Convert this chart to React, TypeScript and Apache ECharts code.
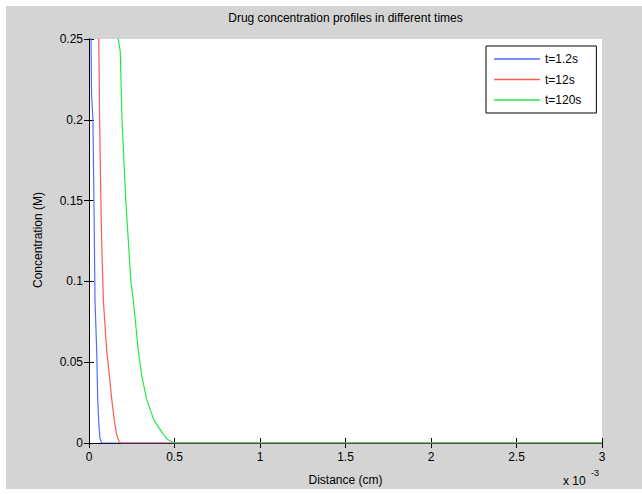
import React, { useEffect, useRef } from 'react';
import * as echarts from 'echarts';

const seriesNames = ['t=1.2s', 't=12s', 't=120s'];
const seriesColors = ['#4d6dff', '#ff5c4d', '#22e84a'];

// x in units of 1e-3 cm, y in M
const blueX = [0, 0.008, 0.012, 0.015, 0.023, 0.03, 0.035, 0.045, 0.051, 0.058, 0.064, 0.074, 3];
const blueY = [1.0, 0.4, 0.25, 0.215, 0.2, 0.14, 0.0885, 0.057, 0.027, 0.011, 0.003, 0, 0];

const redX = [0, 0.04, 0.057, 0.06, 0.062, 0.068, 0.074, 0.084, 0.103, 0.119, 0.133, 0.148, 0.162, 0.177, 0.19, 3];
const redY = [1.0, 0.5, 0.25, 0.224, 0.2, 0.16, 0.125, 0.0885, 0.0575, 0.042, 0.027, 0.014, 0.005, 0.0005, 0, 0];

const greenX = [0.12, 0.171, 0.183, 0.193, 0.215, 0.245, 0.259, 0.288, 0.308, 0.337, 0.38, 0.431, 0.462, 0.5, 3];
const greenY = [0.5, 0.25, 0.242, 0.2, 0.15, 0.1, 0.0885, 0.0575, 0.042, 0.027, 0.014, 0.006, 0.002, 0, 0];

const xTickValues = [0, 0.5, 1, 1.5, 2, 2.5, 3];
const yTickValues = [0, 0.05, 0.1, 0.15, 0.2, 0.25];

const titleText = 'Drug concentration profiles in different times';
const xLabel = 'Distance (cm)';
const yLabel = 'Concentration (M)';

const FONT = '"Liberation Sans", Arial, sans-serif';

const zip = (xs: number[], ys: number[]) => xs.map((x, i) => [x, ys[i]]);

export default function App() {
  const ref = useRef<HTMLDivElement>(null);
  useEffect(() => {
    document.body.style.margin = '0';
    const chart = echarts.init(ref.current!, null, { renderer: 'svg' });
    const axisCommon = {
      axisLine: { show: true, lineStyle: { color: '#000', width: 1 } },
      axisTick: { show: true, inside: true, length: 5, lineStyle: { color: '#000' } },
      splitLine: { show: false },
    };
    const xBase = { type: 'value', min: 0, max: 3, interval: 0.5 };
    const yBase = { type: 'value', min: 0, max: 0.25, interval: 0.05 };
    const datas = [zip(blueX, blueY), zip(redX, redY), zip(greenX, greenY)];
    chart.setOption({
      animation: false,
      backgroundColor: 'transparent',
      textStyle: { fontFamily: FONT },
      grid: {
        left: 83,
        top: 33,
        width: 513,
        height: 404,
        show: true,
        backgroundColor: '#fff',
        borderWidth: 0,
      },
      xAxis: [
        {
          ...xBase,
          ...axisCommon,
          position: 'bottom',
          axisLabel: {
            color: '#000',
            fontSize: 12,
            fontFamily: FONT,
            margin: 8,
            formatter: (v: number) => (xTickValues.includes(v) ? String(v) : ''),
          },
        },
        { ...xBase, ...axisCommon, position: 'top', axisLabel: { show: false } },
      ],
      yAxis: [
        {
          ...yBase,
          ...axisCommon,
          position: 'left',
          axisLabel: {
            color: '#000',
            fontSize: 12,
            fontFamily: FONT,
            margin: 6,
            formatter: (v: number) => {
              const r = Math.round(v * 100) / 100;
              return yTickValues.some((t) => Math.abs(t - r) < 1e-9) ? String(r) : '';
            },
          },
        },
        { ...yBase, ...axisCommon, position: 'right', axisLabel: { show: false } },
      ],
      legend: {
        orient: 'vertical',
        left: 480,
        top: 40,
        padding: [6, 15, 6, 8],
        borderColor: '#000',
        borderWidth: 1,
        backgroundColor: '#fff',
        borderRadius: 0,
        icon: 'rect',
        itemWidth: 46,
        itemHeight: 1.5,
        itemGap: 6.5,
        textStyle: { color: '#000', fontSize: 12, fontFamily: FONT, lineHeight: 14 },
        data: seriesNames.map((name) => ({ name, icon: 'rect' })),
      },
      series: seriesNames.map((name, i) => ({
        name,
        type: 'line',
        data: datas[i],
        showSymbol: false,
        symbol: 'none',
        clip: true,
        lineStyle: { color: seriesColors[i], width: 1.2 },
        itemStyle: { color: seriesColors[i] },
        z: 2 + i,
      })),
      graphic: [
        {
          type: 'text',
          x: 339.5,
          y: 12,
          style: { text: titleText, textAlign: 'center', textVerticalAlign: 'middle', fontSize: 12, fontFamily: FONT, fill: '#000' },
        },
        {
          type: 'text',
          x: 339.5,
          y: 474,
          style: { text: xLabel, textAlign: 'center', textVerticalAlign: 'middle', fontSize: 12, fontFamily: FONT, fill: '#000' },
        },
        {
          type: 'text',
          x: 32,
          y: 234,
          rotation: Math.PI / 2,
          style: { text: yLabel, textAlign: 'center', textVerticalAlign: 'middle', fontSize: 12, fontFamily: FONT, fill: '#000' },
        },
        {
          type: 'text',
          x: 557,
          y: 475,
          style: { text: 'x 10', textAlign: 'left', textVerticalAlign: 'middle', fontSize: 12, fontFamily: FONT, fill: '#000' },
        },
        {
          type: 'text',
          x: 585,
          y: 467,
          style: { text: '-3', textAlign: 'left', textVerticalAlign: 'middle', fontSize: 9, fontFamily: FONT, fill: '#000' },
        },
      ],
    });
    return () => chart.dispose();
  }, []);
  return (
    <div style={{ position: 'relative', width: 642, height: 494, background: '#fff' }}>
      <div
        ref={ref}
        style={{ position: 'absolute', left: 6, top: 6, width: 636, height: 483, background: '#d4d4d4' }}
      />
    </div>
  );
}
